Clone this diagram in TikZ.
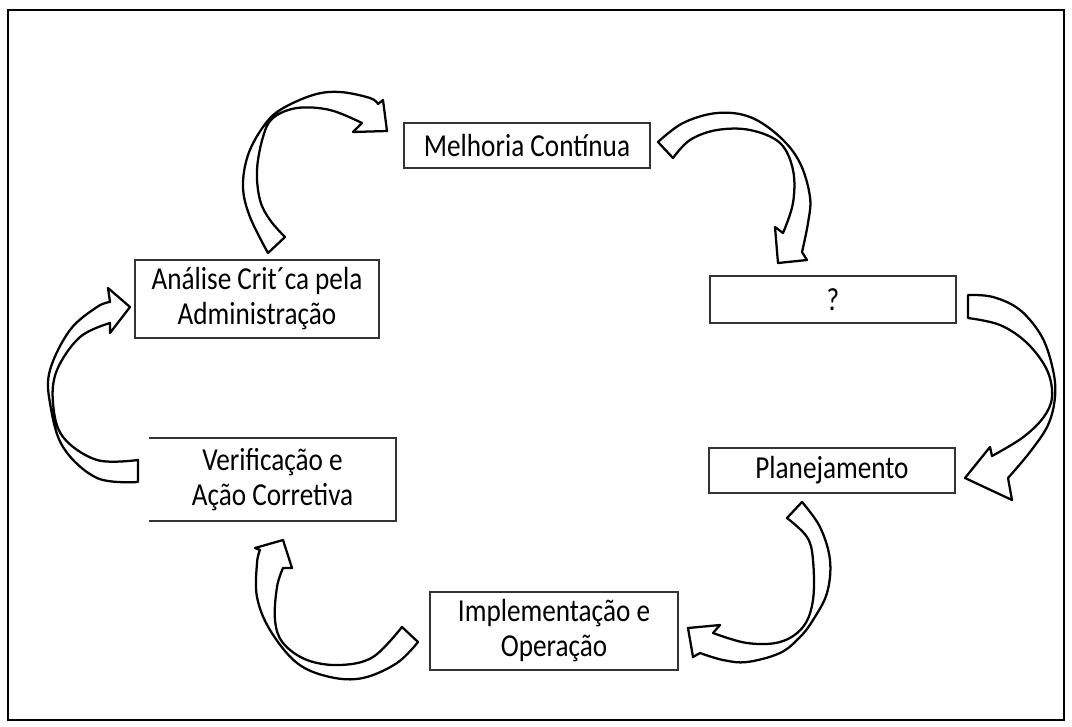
\documentclass[tikz,border=0pt]{standalone}
\usepackage{fontspec}
\newfontfamily\boxfont[FakeStretch=0.85]{Carlito}
\begin{document}
\begin{tikzpicture}[x=0.75pt,y=-0.75pt,
  box/.style={draw=black!80,line width=1.3pt,inner sep=0pt,align=center,
    font=\boxfont\fontsize{24}{26.25}\selectfont},
  blockarrow/.style={draw=black,fill=white,line width=1.7pt,line join=round}]
\useasboundingbox (0,0) rectangle (1072,726);
\draw[line width=1.5pt] (8,10) rectangle (1064,720);

\node[box,minimum width=184.5pt,minimum height=33.75pt] (mel) at (527,145.5) {Melhoria Contínua};
\node[box,minimum width=184.5pt,minimum height=35.25pt] (q) at (833,299.5) {?};
\node[box,minimum width=184.5pt,minimum height=33.75pt] (plan) at (832,470.5) {Planejamento};
\node[box,minimum width=186pt,minimum height=58.5pt] (impl) at (554,631) {Implementação e\\Operação};
\node[box,draw=none,minimum width=183.75pt,minimum height=60.75pt] (verif) at (272.5,479.5) {Verificação e\\Ação Corretiva};
\draw[black!80,line width=1.3pt] (verif.north west) -- (verif.north east) -- (verif.south east) -- (verif.south west);
\node[box,minimum width=183pt,minimum height=58.5pt] (ana) at (257,299) {Análise Crit´ca pela\\Administração};

% arrow A: Analise -> Melhoria
\draw[blockarrow] plot[smooth,tension=0.6] coordinates {(268,253) (250,217) (243,187) (248,155) (263,127) (280,110) (313,95) (340,92) (370,98) (378,104)}
  -- (383,100) -- (387,131) -- (353,132) -- (362,123)
  -- plot[smooth,tension=0.6] coordinates {(362,123) (330,110) (297,108) (273,118) (263,137) (257,170) (260,200) (270,220) (285,237)} -- cycle;
% arrow B: Melhoria -> ?
\draw[blockarrow] plot[smooth,tension=0.6] coordinates {(658,142) (683,123) (717,113) (750,117) (780,137) (800,163) (810,197) (808,223) (802,252)}
  -- (807,260) -- (778,263) -- (775,227) -- (783,233)
  -- plot[smooth,tension=0.6] coordinates {(783,233) (793,203) (793,170) (780,143) (750,130) (717,130) (690,140) (673,158)} -- cycle;
% arrow C: ? -> Planejamento
\draw[blockarrow] plot[smooth,tension=0.6] coordinates {(968,295) (993,297) (1020,310) (1042,337) (1053,370) (1055,397) (1048,425) (1030,452) (1008,478)}
  -- (1012,500) -- (965,478) -- (990,447) -- (992,456)
  -- plot[smooth,tension=0.6] coordinates {(992,456) (1022,438) (1043,418) (1052,397) (1047,370) (1027,343) (1000,325) (968,318)} -- cycle;
% arrow D: Planejamento -> Implementacao
\draw[blockarrow] plot[smooth,tension=0.6] coordinates {(802,502) (820,527) (830,560) (827,593) (813,620) (800,637) (780,653) (747,662) (723,660) (700,653)}
  -- (693,657) -- (688,628) -- (720,625) -- (713,633)
  -- plot[smooth,tension=0.6] coordinates {(713,633) (747,643) (780,642) (803,627) (813,600) (813,560) (807,537) (787,518)} -- cycle;
% arrow E: Implementacao -> Verificacao
\draw[blockarrow] plot[smooth,tension=0.6] coordinates {(418,642) (397,663) (363,678) (330,677) (297,663) (270,630) (257,597) (257,563) (260,550)}
  -- (255,548) -- (283,540) -- (292,568) -- (283,568)
  -- plot[smooth,tension=0.6] coordinates {(283,568) (277,587) (275,620) (283,643) (307,660) (340,665) (373,657) (402,627)} -- cycle;
% arrow F: Verificacao -> Analise
\draw[blockarrow] plot[smooth,tension=0.6] coordinates {(138,482) (97,478) (63,447) (50,403) (50,370) (70,330) (97,307) (110,302)}
  -- (108,288) -- (130,307) -- (110,333) -- (110,323)
  -- plot[smooth,tension=0.6] coordinates {(110,323) (80,337) (57,370) (53,403) (63,437) (97,460) (138,460)} -- cycle;
\end{tikzpicture}
\end{document}
